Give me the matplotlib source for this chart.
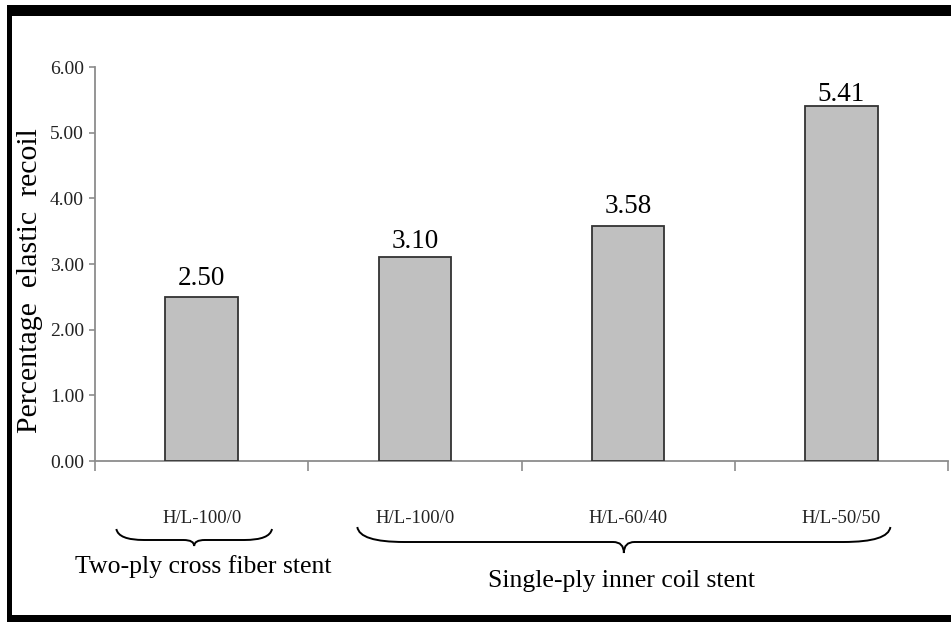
import matplotlib
matplotlib.use("Agg")
import matplotlib.pyplot as plt
from matplotlib.patches import Rectangle, PathPatch
from matplotlib.path import Path
from matplotlib.transforms import blended_transform_factory

# ---- data ----
categories = ["H/L-100/0", "H/L-100/0", "H/L-60/40", "H/L-50/50"]
values = [2.50, 3.10, 3.58, 5.41]
value_labels = ["2.50", "3.10", "3.58", "5.41"]
y_ticks = [0, 1, 2, 3, 4, 5, 6]
y_tick_labels = ["0.00", "1.00", "2.00", "3.00", "4.00", "5.00", "6.00"]
group_names = ["Two-ply cross fiber stent", "Single-ply inner coil stent"]
group_spans = [(-0.40, 0.33), (0.73, 3.23)]
group_label_x = [0.006, 1.967]
y_label = "Percentage  elastic  recoil"

# label placement (style)
label_offsets_pt = [8.6, 6.5, 9.4, 3.6]

plt.rcParams['font.family'] = ['Liberation Serif', 'DejaVu Serif']

W, H = 951, 622
fig = plt.figure(figsize=(W / 100, H / 100), dpi=100)
fig.patch.set_facecolor("white")

def fy(py):
    return 1 - py / H

ax = fig.add_axes([95 / W, fy(461), (948 - 95) / W, (461 - 67) / H])

x = list(range(len(categories)))
ax.bar(x, values, width=0.34, color="#c0c0c0", edgecolor="#333333", linewidth=1.3, zorder=3)

for xi, v, lab, off in zip(x, values, value_labels, label_offsets_pt):
    ax.annotate(lab, (xi, v), xytext=(0, off), textcoords="offset points",
                ha="center", va="baseline", fontsize=19.5, color="black")

ax.set_xlim(-0.5, len(categories) - 0.5)
ax.set_ylim(0, 6)

ax.set_yticks(y_ticks)
ax.set_yticklabels(y_tick_labels, fontsize=14, color="#222222")

ax.set_xticks([i - 0.5 for i in range(len(categories) + 1)])
ax.set_xticklabels([])
ax.set_xticks(x, minor=True)
ax.set_xticklabels(categories, minor=True, fontsize=13.5, color="#222222")
ax.tick_params(axis="x", which="minor", length=0, pad=35)
ax.tick_params(axis="x", which="major", length=7, width=1.2, color="#8c8c8c", direction="out")
ax.tick_params(axis="y", length=4, width=1.2, color="#8c8c8c", direction="out", pad=4)

for s in ["top", "right"]:
    ax.spines[s].set_visible(False)
for s in ["left", "bottom"]:
    ax.spines[s].set_color("#8c8c8c")
    ax.spines[s].set_linewidth(1.3)

fig.text(30 / W, fy(281), y_label, rotation=90, ha="center", va="center", fontsize=21.5)

# braces
trans = blended_transform_factory(ax.transData, fig.transFigure)
brace_shapes = [(529, 540, 546, 0.13), (527, 542, 553, 0.22)]
for (x0, x1), (ytop, yflat, ytip, w) in zip(group_spans, brace_shapes):
    xm = (x0 + x1) / 2
    verts = [(x0, fy(ytop)), (x0 + 0.01, fy(yflat)), (x0 + w, fy(yflat)),
             (xm - 0.05, fy(yflat)), (xm, fy(yflat)), (xm, fy(ytip)),
             (xm, fy(yflat)), (xm + 0.05, fy(yflat)),
             (x1 - w, fy(yflat)), (x1 - 0.01, fy(yflat)), (x1, fy(ytop))]
    codes = [Path.MOVETO, Path.CURVE3, Path.CURVE3,
             Path.LINETO, Path.CURVE3, Path.CURVE3,
             Path.CURVE3, Path.CURVE3,
             Path.LINETO, Path.CURVE3, Path.CURVE3]
    fig.patches.append(PathPatch(Path(verts, codes), transform=trans, fill=False,
                                 edgecolor="black", linewidth=1.4, clip_on=False))

for name, gx, gy in zip(group_names, group_label_x, [567, 581]):
    ax.text(gx, fy(gy), name, transform=trans, ha="center", va="center", fontsize=18.5)

# frame
for (px0, py0, px1, py1) in [(7, 5, W, 16), (7, 5, 12, H), (7, 615, W, H)]:
    fig.patches.append(Rectangle((px0 / W, fy(py1)), (px1 - px0) / W, (py1 - py0) / H,
                                 transform=fig.transFigure, facecolor="black",
                                 edgecolor="none", zorder=10))

fig.savefig("out.png", dpi=100)
